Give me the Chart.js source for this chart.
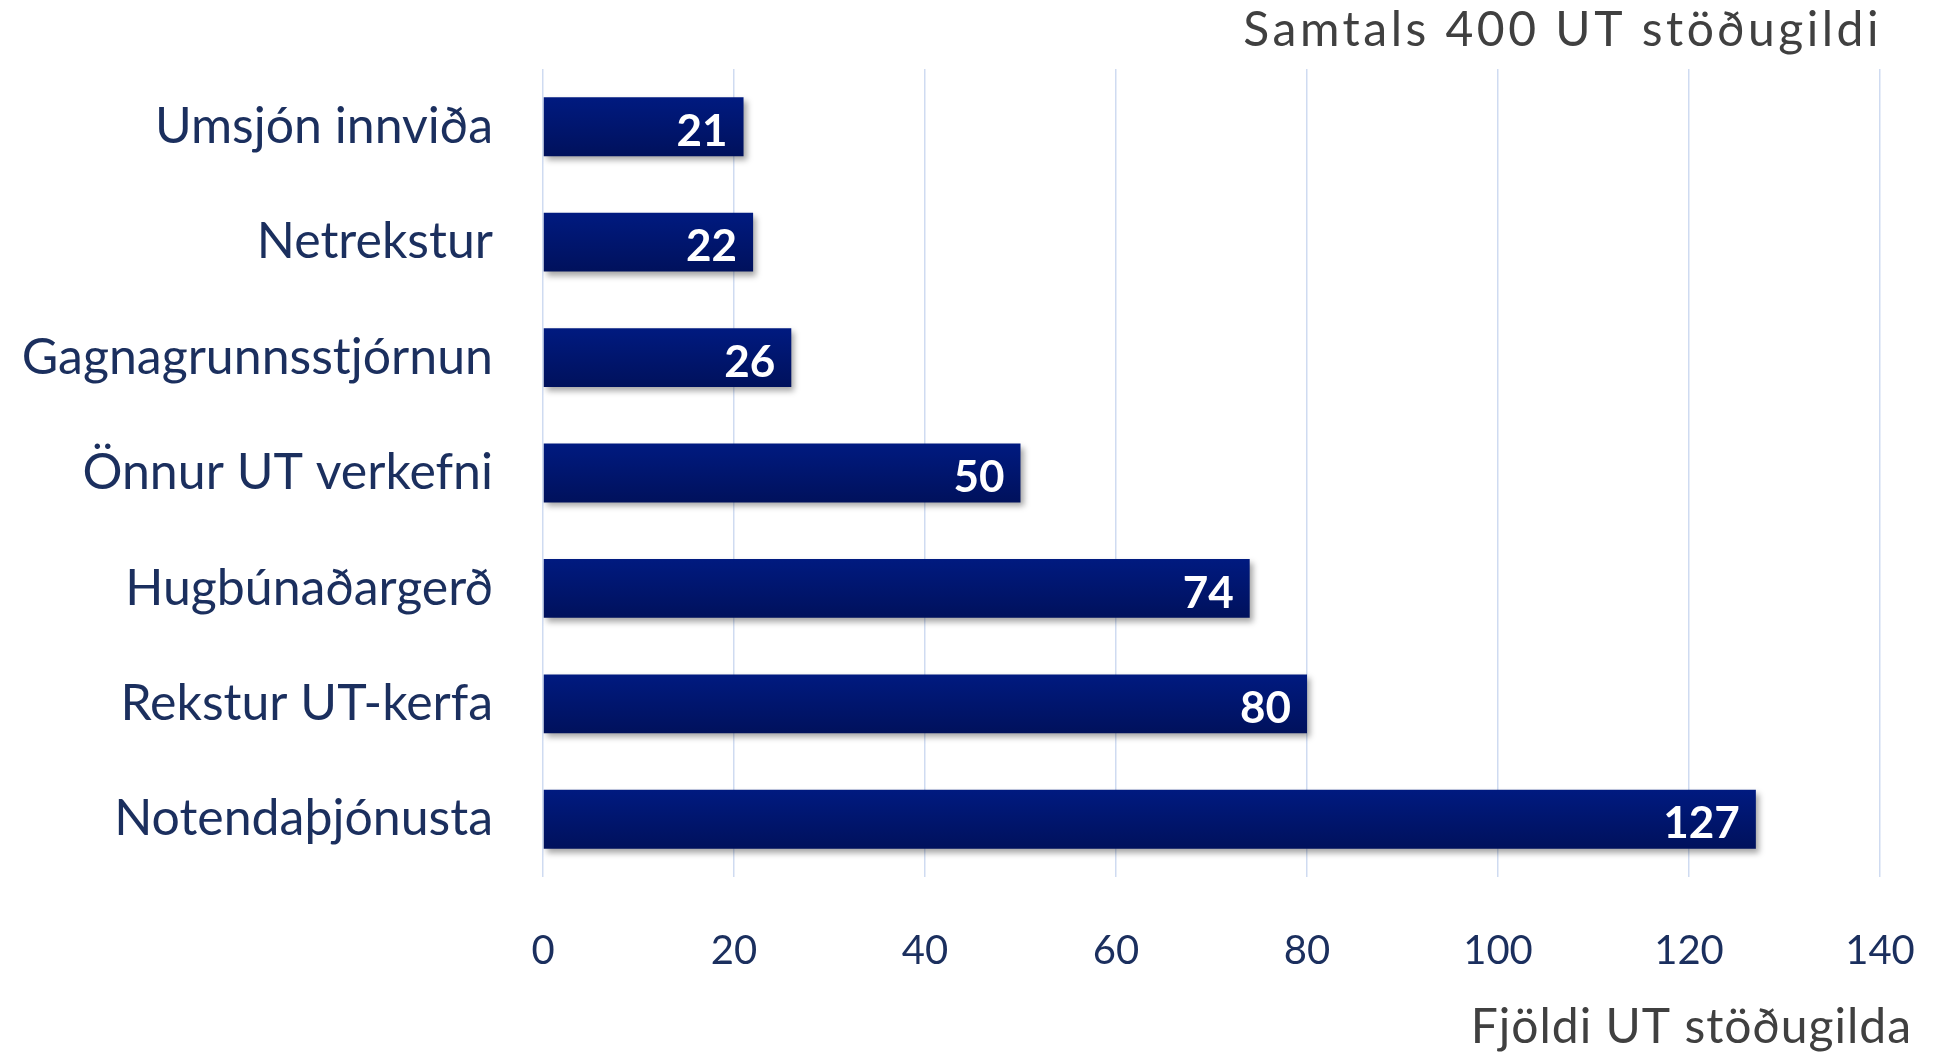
<!DOCTYPE html>
<html>
<head>
<meta charset="utf-8">
<script src="https://cdn.jsdelivr.net/npm/chart.js@4/dist/chart.umd.min.js"></script>
<style>
  html, body { margin: 0; padding: 0; background: #fff; }
  #wrap { width: 1936px; height: 1059px; }
</style>
</head>
<body>
<div id="wrap"><canvas id="chart" width="1936" height="1059"></canvas></div>
<script>
// ---- data ----
const categories = ['Umsjón innviða', 'Netrekstur', 'Gagnagrunnsstjórnun', 'Önnur UT verkefni', 'Hugbúnaðargerð', 'Rekstur UT-kerfa', 'Notendaþjónusta'];
const values = [21, 22, 26, 50, 74, 80, 127];
const xTicks = [0, 20, 40, 60, 80, 100, 120, 140];
const topTitle = 'Samtals 400 UT stöðugildi';
const xTitle = 'Fjöldi UT stöðugilda';

const FONT = 'Lato, "Open Sans", sans-serif';
const NAVY = '#1b2f5e';
const GREY = '#404040';

// gradient + shadow on the bars
const barStyle = {
  id: 'barStyle',
  beforeDatasetDraw(chart) {
    const ctx = chart.ctx;
    chart.getDatasetMeta(0).data.forEach(bar => {
      const half = bar.height / 2;
      const g = ctx.createLinearGradient(0, bar.y - half, 0, bar.y + half);
      g.addColorStop(0, '#001a80');
      g.addColorStop(1, '#00115c');
      bar.options = Object.assign({}, bar.options, { backgroundColor: g });
    });
    ctx.save();
    ctx.shadowColor = 'rgba(0,0,0,0.35)';
    ctx.shadowBlur = 6;
    ctx.shadowOffsetX = 3;
    ctx.shadowOffsetY = 4;
  },
  afterDatasetDraw(chart) {
    chart.ctx.restore();
  }
};

// white value labels at the bar ends + the two titles
const labels = {
  id: 'labels',
  afterDatasetsDraw(chart) {
    const ctx = chart.ctx;
    ctx.save();
    ctx.fillStyle = '#ffffff';
    ctx.font = 'bold 44px ' + FONT;
    ctx.textAlign = 'right';
    ctx.textBaseline = 'middle';
    chart.getDatasetMeta(0).data.forEach((bar, i) => {
      ctx.fillText(values[i], bar.x - 16, bar.y + 5);
    });
    ctx.fillStyle = GREY;
    ctx.font = '48px ' + FONT;
    ctx.letterSpacing = '1px';
    ctx.fillText(xTitle, 1912, 1028);
    ctx.letterSpacing = '3.5px';
    ctx.fillText(topTitle, 1882, 31);
    ctx.restore();
  }
};

new Chart(document.getElementById('chart'), {
  type: 'bar',
  data: {
    labels: categories,
    datasets: [{ data: values, backgroundColor: '#001670', barPercentage: 0.51, categoryPercentage: 1 }]
  },
  options: {
    indexAxis: 'y',
    responsive: false,
    animation: false,
    layout: { padding: { left: 0, right: 56, top: 69, bottom: 0 } },
    plugins: {
      legend: { display: false },
      tooltip: { enabled: false }
    },
    scales: {
      x: {
        min: 0,
        max: 140,
        afterBuildTicks: s => { s.ticks = xTicks.map(v => ({ value: v })); },
        grid: { color: '#cfdbf1', lineWidth: 1.5, drawTicks: false },
        border: { display: false },
        ticks: { color: NAVY, font: { family: FONT, size: 40 }, padding: 50 },
        afterFit: s => { s.height = 1059 - 877; s.paddingLeft = 0; s.paddingRight = 0; }
      },
      y: {
        grid: { display: false },
        border: { display: false },
        ticks: { color: NAVY, font: { family: FONT, size: 50 }, padding: 42 },
        afterFit: s => { s.width = 543; s.paddingTop = 0; s.paddingBottom = 0; }
      }
    }
  },
  plugins: [barStyle, labels]
});
</script>
</body>
</html>
